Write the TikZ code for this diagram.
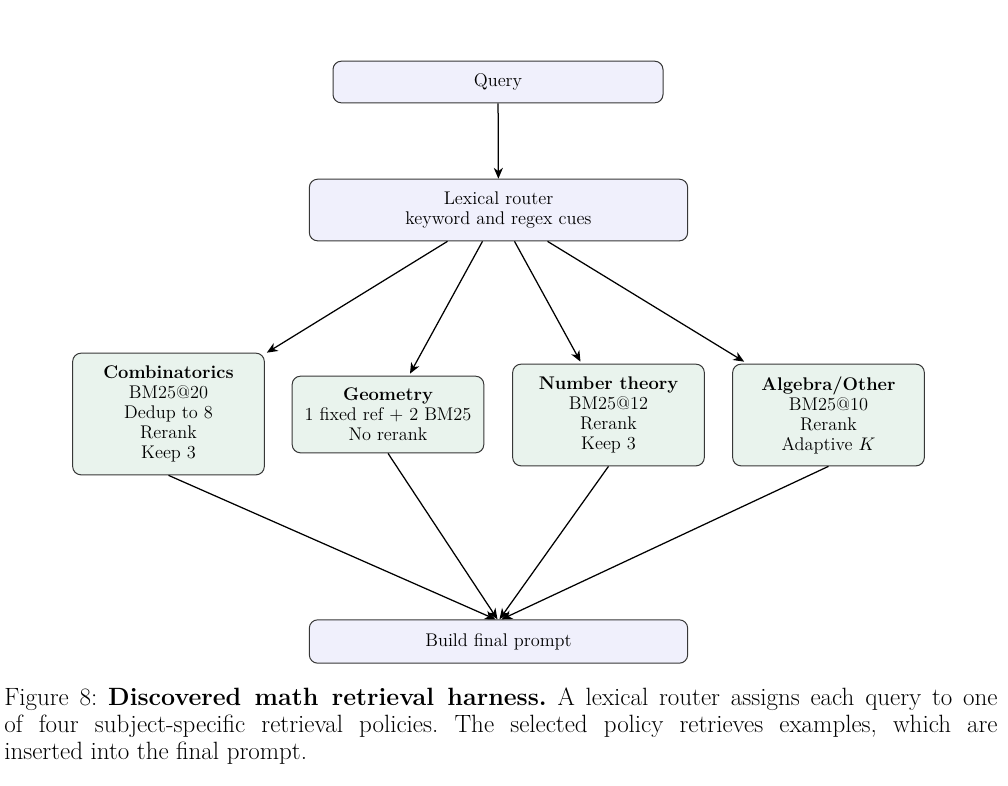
\documentclass[tikz,border=0pt]{standalone}
\usepackage{amsmath}
\usepackage{amssymb}
\usepackage{tikz}
\usetikzlibrary{arrows.meta, calc}

\definecolor{stagefill}{RGB}{240,240,252}
\definecolor{policyfill}{RGB}{233,243,237}
\definecolor{boxline}{RGB}{55,55,55}

\tikzset{
    stage/.style={draw=boxline, fill=stagefill, rounded corners=5pt, semithick,
        align=center, font=\fontsize{11}{12}\selectfont},
    policy/.style={draw=boxline, fill=policyfill, rounded corners=5pt, semithick,
        align=center, font=\fontsize{11}{12}\selectfont},
    flow/.style={-{Stealth[length=6.5pt, width=5.5pt, inset=2pt]}, line width=0.75pt}
}

\begin{document}
\begin{tikzpicture}[x=0.6pt, y=-0.6pt]
    \useasboundingbox (0,0) rectangle (1008,785);
    \node[stage, minimum width=198pt, minimum height=25pt](query)   at (498,82)    {Query};
    \node[stage, minimum width=227pt, minimum height=37pt](router)  at (498.5,210) {Lexical router\\keyword and regex cues};
    \node[policy, minimum width=115pt, minimum height=73pt](comb)   at (168.5,414) {\textbf{Combinatorics}\\BM25@20\\Dedup to 8\\Rerank\\Keep 3};
    \node[policy, minimum width=115pt, minimum height=46pt](geom)   at (388,414.5) {\textbf{Geometry}\\1 fixed ref + 2 BM25\\No rerank};
    \node[policy, minimum width=115pt, minimum height=61pt](numth)  at (608.5,415) {\textbf{Number theory}\\BM25@12\\Rerank\\Keep 3};
    \node[policy, minimum width=115pt, minimum height=61pt](alg)    at (828.5,415) {\textbf{Algebra/Other}\\BM25@10\\Rerank\\Adaptive $K$};
    \node[stage, minimum width=227pt, minimum height=26pt](build)   at (498.5,641.5) {Build final prompt};
    \node[text width=596pt, align=justify, anchor=north west, inner sep=0pt,
        font=\fontsize{15}{16.2}\selectfont\frenchspacing](caption) at (4,687)
        {Figure 8: \textbf{Discovered math retrieval harness.} A lexical router assigns each query to one\linebreak
        of four subject-specific retrieval policies. The selected policy retrieves examples, which are\linebreak
        inserted into the final prompt.};
    \path
        (query)
            edge [flow] (router)
        ($(router.south)+(-51,0)$)
            edge [flow] ($(comb.north east)+(2,0)$)
        ($(router.south)+(-16,0)$)
            edge [flow] ($(geom.north)+(22,-2)$)
        ($(router.south)+(16,0)$)
            edge [flow] ($(numth.north)+(-28,-2)$)
        ($(router.south)+(49,0)$)
            edge [flow] ($(alg.north west)+(12,-2)$)
        (comb.south)
            edge [flow] ($(build.north)+(-3,0)$)
        (geom.south)
            edge [flow] ($(build.north)+(-1,0)$)
        (numth.south)
            edge [flow] ($(build.north)+(1,0)$)
        (alg.south)
            edge [flow] ($(build.north)+(3,0)$)
        ;
\end{tikzpicture}
\end{document}
